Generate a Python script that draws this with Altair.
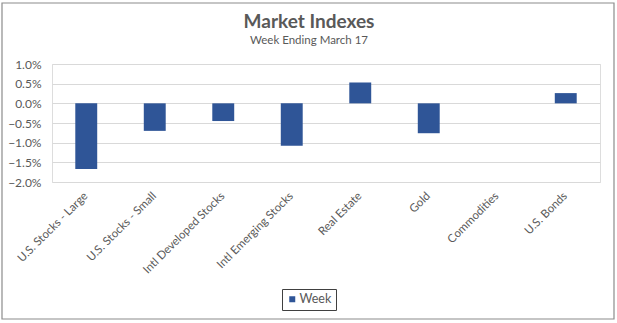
import altair as alt
import pandas as pd

categories = ["U.S. Stocks - Large", "U.S. Stocks - Small", "Intl Developed Stocks",
              "Intl Emerging Stocks", "Real Estate", "Gold", "Commodities", "U.S. Bonds"]
week = [-0.0167, -0.0070, -0.0045, -0.0108, 0.0053, -0.0076, 0.0000, 0.0026]
series = ["Week"] * len(categories)
y_ticks = [-0.02, -0.015, -0.01, -0.005, 0.0, 0.005, 0.01]
title_text = "Market Indexes"
subtitle_text = "Week Ending March 17"

df = pd.DataFrame({"category": categories, "value": week, "series": series})
tdf = pd.DataFrame({"t": [title_text], "s": [subtitle_text]})

FONT = "Lato"
GRAY = "#595959"

bars = alt.Chart(df).mark_bar(color="#2F5597").encode(
    x=alt.X("category:N", sort=categories, title=None,
            scale=alt.Scale(paddingInner=0.68, paddingOuter=0.34),
            axis=alt.Axis(labelAngle=-45, labelAlign="right", labelBaseline="middle",
                          labelPadding=12, ticks=False, domain=False, labelFontSize=11.5,
                          labelColor=GRAY, labelFont=FONT, grid=False)),
    y=alt.Y("value:Q", title=None,
            scale=alt.Scale(domain=[-0.02, 0.01], nice=False),
            axis=alt.Axis(values=y_ticks, format=".1%", ticks=False, domain=False,
                          labelPadding=11, labelFontSize=12, labelColor=GRAY, labelFont=FONT,
                          gridColor="#d9d9d9", gridWidth=1)),
    color=alt.Color("series:N", scale=alt.Scale(range=["#2F5597"]),
                    legend=alt.Legend(title=None, orient="none", legendX=230, legendY=225,
                                      symbolType="square", symbolSize=36, symbolStrokeWidth=0,
                                      labelFontSize=12.5, labelColor=GRAY, labelFont=FONT,
                                      strokeColor="#404040", padding=4, labelOffset=1)),
)

border = alt.Chart(tdf).mark_rect(fill=None, stroke="#8c8c8c", strokeWidth=1.2, clip=False).encode(
    x=alt.value(-50), x2=alt.value(562), y=alt.value(-61), y2=alt.value(255)
)

title = alt.Chart(tdf).mark_text(font=FONT, fontSize=19, fontWeight="bold", color=GRAY,
                                 align="center", baseline="alphabetic").encode(
    text="t:N", x=alt.value(257), y=alt.value(-36)
)
subtitle = alt.Chart(tdf).mark_text(font=FONT, fontSize=11.5, color=GRAY,
                                    align="center", baseline="alphabetic").encode(
    text="s:N", x=alt.value(257), y=alt.value(-20)
)

chart = alt.layer(border, bars, title, subtitle).properties(
    width=548, height=118,
    autosize=alt.AutoSizeParams(type="none"),
    padding={"left": 52, "top": 64, "right": 17, "bottom": 141},
).configure_view(stroke=None).configure(background="white")

chart.save("out.html", embed_options={"renderer": "svg", "actions": False})
